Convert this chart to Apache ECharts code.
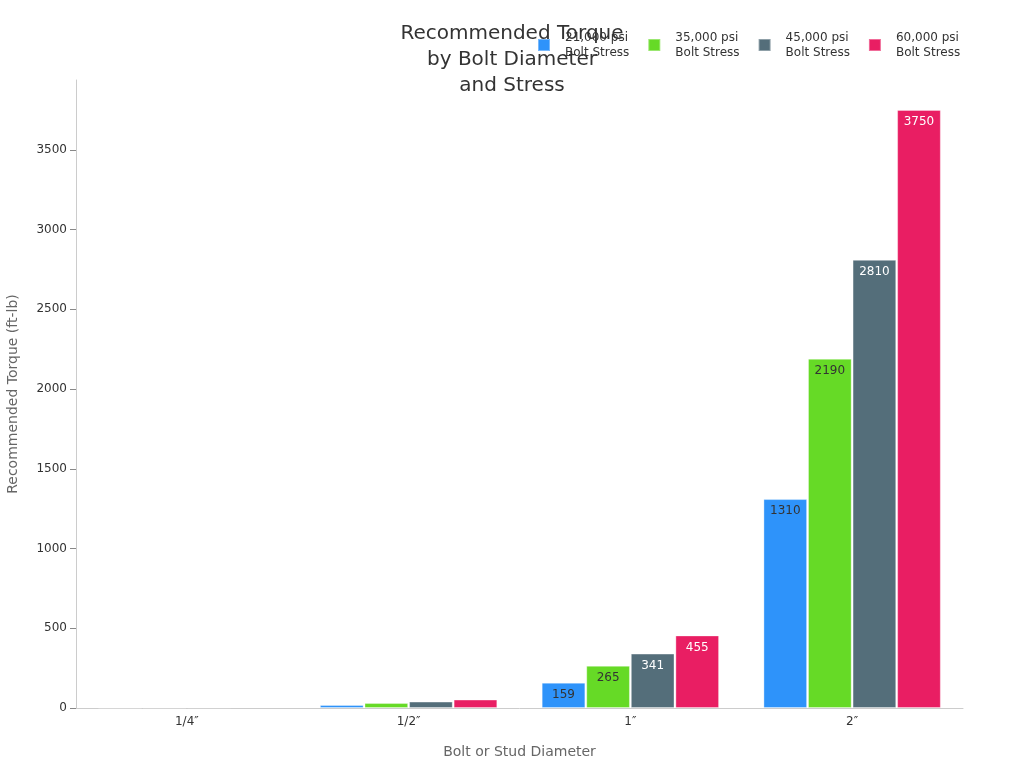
<!DOCTYPE html>
<html><head><meta charset="utf-8">
<script src="https://cdn.jsdelivr.net/npm/echarts@6/dist/echarts.min.js"></script>
<style>html,body{margin:0;padding:0;background:#fff}#c{width:1024px;height:768px}</style>
</head><body><div id="c"></div>
<script>
const categories = ['1/4\u2033', '1/2\u2033', '1\u2033', '2\u2033'];
const seriesNames = ['21,000 psi\nBolt Stress', '35,000 psi\nBolt Stress', '45,000 psi\nBolt Stress', '60,000 psi\nBolt Stress'];
const psi21 = [2, 19, 159, 1310];
const psi35 = [3, 31, 265, 2190];
const psi45 = [4, 40, 341, 2810];
const psi60 = [6, 53, 455, 3750];
const yTicks = [0, 500, 1000, 1500, 2000, 2500, 3000, 3500];

const colors = ['#2E93FA', '#66DA26', '#546E7A', '#E91E63'];
const labelColors = ['#333', '#333', '#fff', '#fff'];
const allData = [psi21, psi35, psi45, psi60];
const maxVal = Math.max(...psi60) * 1.05;

const chart = echarts.init(document.getElementById('c'));
chart.setOption({
  animation: false,
  textStyle: { fontFamily: 'DejaVu Sans' },
  color: colors,
  title: {
    text: 'Recommended Torque\nby Bolt Diameter\nand Stress',
    left: 507, top: 16, textAlign: 'center',
    textStyle: { fontSize: 20, fontWeight: 'normal', color: '#333', lineHeight: 26, fontFamily: 'DejaVu Sans' }
  },
  legend: {
    left: 532, top: 25,
    itemWidth: 12, itemHeight: 12, itemGap: 18,
    icon: 'rect',
    textStyle: { fontSize: 12, color: '#333', lineHeight: 15, padding: [0, 0, 0, 10], fontFamily: 'DejaVu Sans' },
    data: seriesNames
  },
  grid: { left: 76, right: 61, top: 80, bottom: 60, containLabel: false, outerBoundsMode: 'none' },
  xAxis: {
    type: 'category', data: categories,
    name: 'Bolt or Stud Diameter', nameLocation: 'middle', nameGap: 37,
    nameTextStyle: { fontSize: 14, color: '#666' },
    axisLine: { lineStyle: { color: '#ccc' } },
    axisTick: { alignWithLabel: true, lineStyle: { color: '#666' }, length: 5 },
    axisLabel: { fontSize: 12, color: '#333', margin: 8 }
  },
  yAxis: {
    type: 'value', min: 0, max: maxVal, interval: 500,
    name: 'Recommended Torque (ft-lb)', nameLocation: 'middle', nameGap: 56,
    nameTextStyle: { fontSize: 14, color: '#666' },
    axisLine: { show: true, lineStyle: { color: '#ccc' } },
    axisTick: { show: true, length: 6, lineStyle: { color: '#888' } },
    splitLine: { show: false },
    axisLabel: {
      fontSize: 12, color: '#333', margin: 9, showMaxLabel: false,
      formatter: v => yTicks.includes(v) ? String(v) : ''
    }
  },
  series: allData.map((d, i) => ({
    name: seriesNames[i], type: 'bar', data: d,
    barGap: '2%', barCategoryGap: '20%',
    itemStyle: { color: colors[i], borderColor: 'rgba(255,255,255,0.35)', borderWidth: 1 },
    label: {
      show: true, position: 'insideTop', distance: 6,
      fontSize: 12, color: labelColors[i], fontFamily: 'DejaVu Sans',
      formatter: p => p.value >= 100 ? String(p.value) : ''
    }
  }))
});
</script></body></html>
